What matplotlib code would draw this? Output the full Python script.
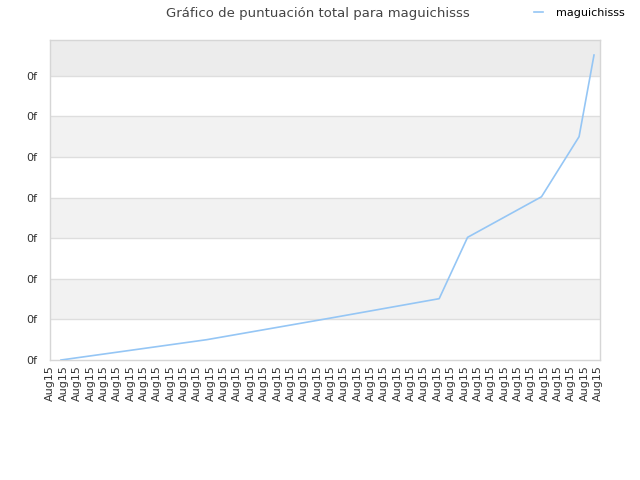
import numpy as np
import matplotlib
matplotlib.use("Agg")
import matplotlib.pyplot as plt

# data (x in tick-step units, y in grid steps)
player = "maguichisss"
x_pos = [0, 10.93, 20.18, 28.38, 30.51, 36.06, 38.88, 40.0]
scores = [0, 0.50, 1.03, 1.51, 3.02, 4.02, 5.50, 7.51]
n_labels = 42
x_label = "Aug15"
y_label = "0f"
y_ticks = [0, 1, 2, 3, 4, 5, 6, 7]

line_color = "#95c6f5"
band_color = "#f2f2f2"
grid_color = "#dedede"

fig = plt.figure(figsize=(6.4, 4.8), dpi=100)
ax = fig.add_axes([50 / 640, 120 / 480, 550 / 640, 320 / 480])

x_min, x_max = -0.826, 40.45
y_max = 7.88
ax.set_xlim(x_min, x_max)
ax.set_ylim(0, y_max)

# alternating background bands
for k in range(1, 8, 2):
    top = min(k + 1, y_max)
    col = "#ececec" if k == 7 else band_color
    ax.axhspan(k, top, color=col, zorder=0, lw=0)
for k in y_ticks[1:]:
    ax.axhline(k, color=grid_color, lw=1, zorder=1)

ax.plot(x_pos, scores, color=line_color, lw=1.2, label=player, zorder=3)

ax.set_yticks(y_ticks)
ax.set_yticklabels([y_label] * len(y_ticks))
ticks = np.linspace(-0.8, 40.3, n_labels)
ax.set_xticks(ticks)
ax.set_xticklabels([x_label] * n_labels, rotation=90)
ax.tick_params(axis="both", length=0, labelsize=8, colors="#333333")
ax.tick_params(axis="y", pad=9)
ax.tick_params(axis="x", pad=4)

for s in ax.spines.values():
    s.set_color("#d6d6d6")
    s.set_linewidth(1)

fig.text(0.497, 0.972, "Gráfico de puntuación total para " + player,
         ha="center", va="center", fontsize=9.5, color="#444444")
fig.legend(loc="upper right", bbox_to_anchor=(0.992, 1.005), frameon=False,
           fontsize=8, handlelength=0.8, handletextpad=1.2)

fig.savefig("out.png", dpi=100)
